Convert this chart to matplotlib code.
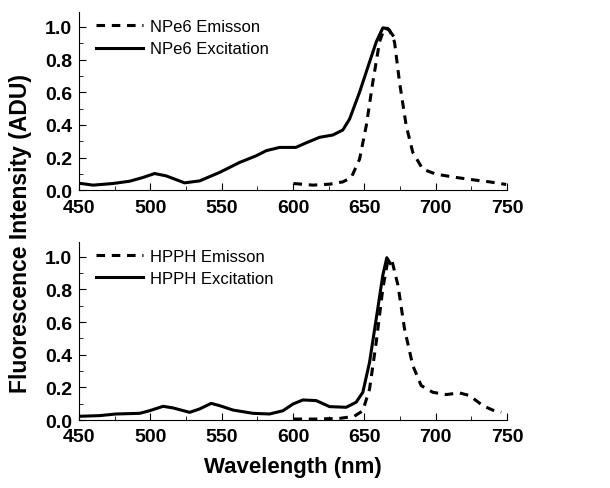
import matplotlib
matplotlib.use("Agg")
import matplotlib.pyplot as plt
from matplotlib.ticker import MultipleLocator

plt.rcParams['font.family'] = ['Liberation Sans', 'DejaVu Sans']

# NPe6 excitation (solid)
npe6_exc_wl = [451.6, 459.8, 473.8, 485.5, 494.9, 503.0, 511.0, 524.0, 534.6, 548.6,
               562.6, 574.3, 581.3, 590.6, 602.0, 609.0, 618.7, 628.0, 635.0, 639.7,
               646.7, 653.7, 658.4, 663.0, 666.6, 670.0]
npe6_exc_val = [0.041, 0.031, 0.041, 0.055, 0.078, 0.102, 0.088, 0.045, 0.057, 0.109,
                0.170, 0.211, 0.242, 0.262, 0.262, 0.289, 0.324, 0.338, 0.369, 0.436,
                0.600, 0.785, 0.908, 0.994, 0.990, 0.949]

# NPe6 emission (dashed)
npe6_em_wl = [600.4, 614.0, 625.7, 635.0, 640.9, 646.7, 651.4, 656.0, 660.7, 664.2,
              667.7, 671.2, 674.7, 679.4, 684.0, 691.0, 700.4, 714.4, 726.0, 737.8, 749.5]
npe6_em_val = [0.041, 0.031, 0.037, 0.051, 0.078, 0.190, 0.395, 0.662, 0.908, 0.994,
               0.980, 0.908, 0.662, 0.395, 0.232, 0.129, 0.098, 0.078, 0.064, 0.051, 0.035]

# HPPH excitation (solid)
hpph_exc_wl = [450.5, 464.5, 476.0, 492.5, 499.5, 509.0, 516.0, 527.6, 534.6, 542.7,
               548.6, 558.0, 572.0, 583.6, 593.0, 600.0, 607.0, 616.3, 625.7, 637.3,
               644.3, 649.0, 653.7, 658.4, 663.0, 665.8, 668.2]
hpph_exc_val = [0.023, 0.027, 0.037, 0.041, 0.057, 0.084, 0.074, 0.047, 0.068, 0.102,
                0.088, 0.061, 0.041, 0.037, 0.057, 0.098, 0.123, 0.119, 0.082, 0.078,
                0.109, 0.170, 0.354, 0.621, 0.887, 0.994, 0.959]

# HPPH emission (dashed)
hpph_em_wl = [600.4, 616.3, 632.7, 643.0, 649.0, 653.7, 658.4, 663.0, 666.6, 669.6,
              673.6, 678.2, 684.0, 689.9, 698.0, 707.4, 716.8, 723.8, 733.1, 740.0, 746.0]
hpph_em_val = [0.006, 0.006, 0.010, 0.023, 0.057, 0.190, 0.477, 0.805, 0.980, 0.969,
               0.826, 0.559, 0.334, 0.211, 0.170, 0.156, 0.166, 0.150, 0.088, 0.061, 0.047]

panels = [
    (npe6_em_wl, npe6_em_val, npe6_exc_wl, npe6_exc_val, "NPe6"),
    (hpph_em_wl, hpph_em_val, hpph_exc_wl, hpph_exc_val, "HPPH"),
]

fig = plt.figure(figsize=(6.1, 4.89), dpi=100)
ax1 = fig.add_axes([0.1295, 0.609, 0.7015, 0.364])
ax2 = fig.add_axes([0.1295, 0.139, 0.7015, 0.364])

for ax, (em_x, em_y, ex_x, ex_y, name) in zip([ax1, ax2], panels):
    ax.plot(em_x, em_y, color='black', lw=2.2, ls=(0, (2.8, 2.2)), label=name + " Emisson")
    ax.plot(ex_x, ex_y, color='black', lw=2.2, ls='-', label=name + " Excitation")
    ax.set_xlim(450, 750)
    ax.set_ylim(0, 1.09)
    ax.spines['top'].set_visible(False)
    ax.spines['right'].set_visible(False)
    ax.xaxis.set_major_locator(MultipleLocator(50))
    ax.xaxis.set_minor_locator(MultipleLocator(25))
    ax.yaxis.set_major_locator(MultipleLocator(0.2))
    ax.yaxis.set_minor_locator(MultipleLocator(0.1))
    ax.tick_params(which='both', direction='in', labelsize=14)
    ax.tick_params(axis='x', pad=6)
    ax.tick_params(axis='y', pad=5)
    ax.tick_params(which='major', length=5)
    ax.tick_params(which='minor', length=3)
    for lbl in ax.get_xticklabels() + ax.get_yticklabels():
        lbl.set_fontweight('bold')
    ax.yaxis.set_major_formatter(plt.FormatStrFormatter('%.1f'))
    ax.legend(loc='upper left', frameon=False, fontsize=12, handlelength=2.8,
              handletextpad=0.4, borderaxespad=0.0, labelspacing=0.45,
              bbox_to_anchor=(0.025, 1.0))

ax2.set_xlabel("Wavelength (nm)", fontsize=16, fontweight='bold', labelpad=8)
fig.text(0.033, 0.523, "Fluorescence Intensity (ADU)", rotation=90, ha='center',
         va='center', fontsize=16.5, fontweight='bold')

fig.savefig("out.png", dpi=100)
